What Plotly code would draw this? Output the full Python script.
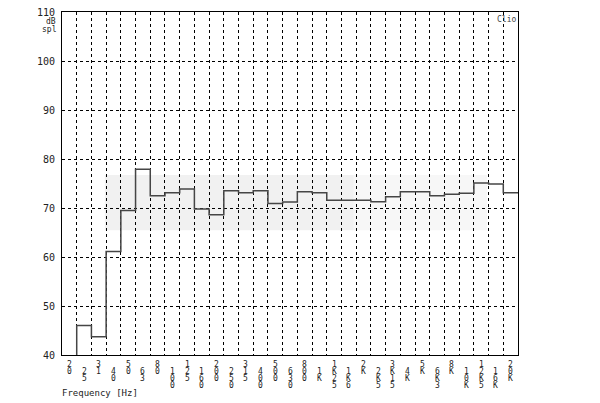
import plotly.graph_objects as go

bands = ["20", "25", "31", "40", "50", "63", "80", "100", "125", "160", "200", "250",
         "315", "400", "500", "630", "800", "1K", "1K25", "1K6", "2K", "2K5", "3K15",
         "4K", "5K", "6K3", "8K", "10K", "12K5", "16K", "20K"]
spl_db = [38.0, 46.0, 43.7, 61.1, 69.5, 77.9, 72.5, 73.1, 73.9, 69.8, 68.6, 73.5,
          73.1, 73.5, 70.9, 71.2, 73.3, 73.1, 71.6, 71.6, 71.6, 71.3, 72.3,
          73.3, 73.3, 72.5, 72.8, 73.0, 75.1, 74.9, 73.1]
y_ticks = [40, 50, 60, 70, 80, 90, 100, 110]

n = len(bands)
xs = list(range(n)) + [n]
ys = spl_db + [spl_db[-1]]

FONT = "DejaVu Sans Mono"
PW, PH = 456, 343  # plot area size in px

fig = go.Figure()
fig.add_trace(go.Scatter(x=xs, y=ys, mode="lines", line=dict(shape="hv", color="#454545", width=1.5),
                         hoverinfo="skip", showlegend=False))

# faint watermark
fig.add_shape(type="rect", xref="paper", yref="paper", x0=0.094, x1=0.64, y0=0.364, y1=0.525,
              fillcolor="#f1f1f1", line=dict(width=0), layer="below")
fig.add_shape(type="rect", xref="paper", yref="paper", x0=0.64, x1=0.932, y0=0.364, y1=0.525,
              fillcolor="#f7f7f7", line=dict(width=0), layer="below")

annotations = []
for i, lab in enumerate(bands):
    start = 9 + (7 if i % 2 == 1 else 0)
    for k, ch in enumerate(lab):
        dy = start + 7 * k  # px below plot bottom
        annotations.append(dict(x=i + 0.5, xref="x", y=-dy / PH, yref="paper",
                                text=ch, showarrow=False, xanchor="center", yanchor="middle",
                                font=dict(family=FONT, size=8, color="#222")))
annotations.append(dict(x=-2 / PW, xref="paper", y=-38 / PH, yref="paper", text="Frequency [Hz]",
                        showarrow=False, xanchor="left", yanchor="middle",
                        font=dict(family=FONT, size=9, color="#222")))
annotations.append(dict(x=-11 / PW, xref="paper", y=1 - 9 / PH, yref="paper", text="dB",
                        showarrow=False, xanchor="center", yanchor="middle",
                        font=dict(family=FONT, size=8, color="#222")))
annotations.append(dict(x=-13 / PW, xref="paper", y=1 - 17 / PH, yref="paper", text="spl",
                        showarrow=False, xanchor="center", yanchor="middle",
                        font=dict(family=FONT, size=8, color="#222")))
annotations.append(dict(x=1.0, xref="paper", y=1 - 7 / PH, yref="paper", text="Clio",
                        showarrow=False, xanchor="right", yanchor="middle",
                        font=dict(family=FONT, size=8, color="#444")))

fig.update_layout(
    width=592, height=395,
    margin=dict(l=54, r=82, t=4, b=48, pad=0, autoexpand=False),
    paper_bgcolor="white", plot_bgcolor="white",
    annotations=annotations,
    showlegend=False,
)
fig.update_xaxes(range=[0, n], tickvals=list(range(1, n)), showticklabels=False, ticks="",
                 showgrid=True, gridcolor="#000", gridwidth=1, griddash="dot", automargin=False,
                 showline=True, linecolor="#000", linewidth=1, mirror=True, zeroline=False,
                 fixedrange=True)
fig.update_yaxes(range=[40, 110], tickvals=y_ticks, ticks="", ticklabelstandoff=4, automargin=False,
                 ticklabeloverflow="allow",
                 tickfont=dict(family=FONT, size=10, color="#222"),
                 showgrid=True, gridcolor="#000", gridwidth=1, griddash="dot",
                 showline=True, linecolor="#000", linewidth=1, mirror=True, zeroline=False,
                 fixedrange=True)

fig.write_html("out.html")
